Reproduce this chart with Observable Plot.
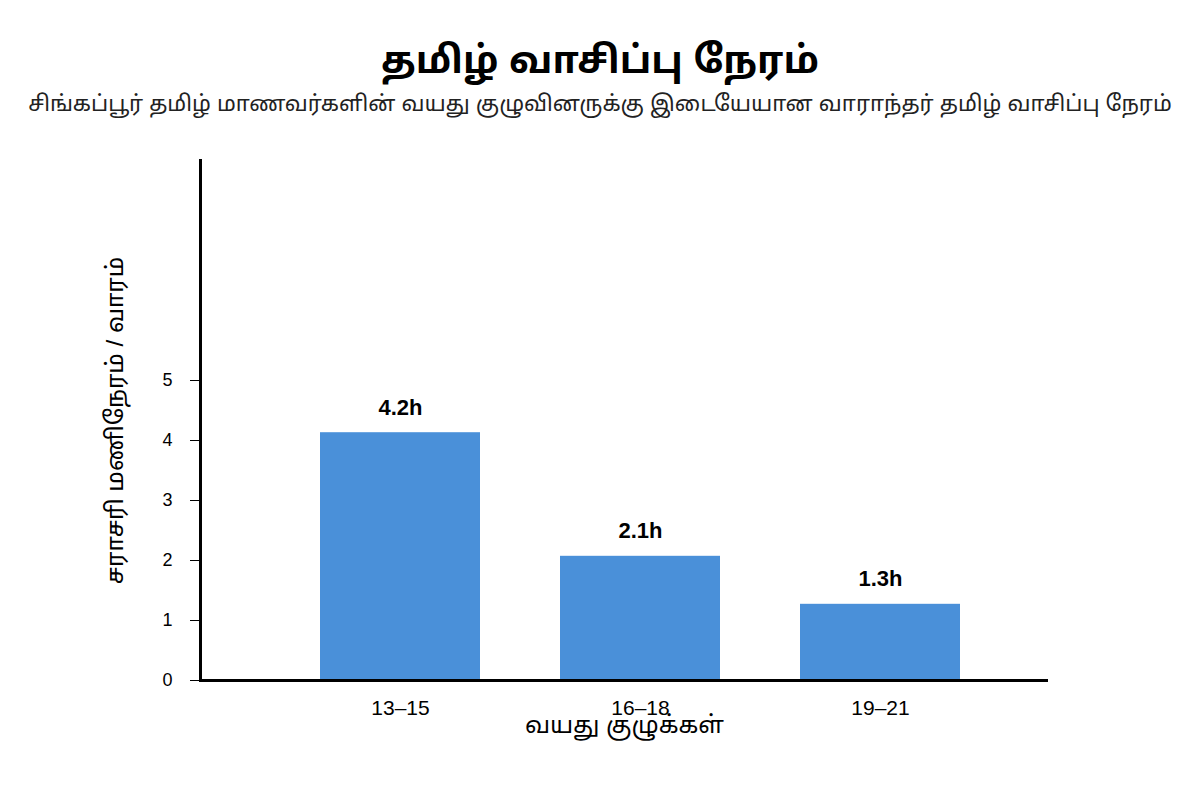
<!DOCTYPE html>
<html>
<head>
<meta charset="utf-8">
<script src="https://cdn.jsdelivr.net/npm/d3@7"></script>
<script src="https://cdn.jsdelivr.net/npm/@observablehq/plot@0.6"></script>
<style>
  body { margin: 0; background: #fff; font-family: "Liberation Sans", Arial, "Noto Sans Tamil", sans-serif; }
  #wrap { width: 1200px; }
  h1 { margin: 0; padding-top: 36px; height: 48px; line-height: 48px; text-align: center; font-size: 38px; font-weight: bold; color: #000; white-space: nowrap; }
  .sub { margin: 0; height: 40px; line-height: 40px; text-align: center; font-size: 22px; color: #222; white-space: nowrap; }
  #chart { margin-top: 6px; }
  svg g[aria-label="x-axis label"] text, svg g[aria-label="y-axis label"] text { font-size: 24px; fill: #000; }
</style>
</head>
<body>
<div id="wrap">
  <h1>தமிழ் வாசிப்பு நேரம்</h1>
  <div class="sub">சிங்கப்பூர் தமிழ் மாணவர்களின் வயது குழுவினருக்கு இடையேயான வாராந்தர் தமிழ் வாசிப்பு நேரம்</div>
  <div id="chart"></div>
</div>
<script>
const ageGroups = ["13–15", "16–18", "19–21"];
const hours = [4.13, 2.07, 1.27];
const valueLabels = ["4.2h", "2.1h", "1.3h"];
const yTicks = [0, 1, 2, 3, 4, 5];
const xTitle = "வயது குழுக்கள்";
const yTitle = "சராசரி மணிநேரம் / வாரம்";

const data = ageGroups.map((g, i) => ({group: g, hours: hours[i], label: valueLabels[i]}));

const chart = Plot.plot({
  width: 1200,
  height: 670,
  marginLeft: 200,
  marginRight: 152,
  marginTop: 30,
  marginBottom: 120,
  style: {fontFamily: "'Liberation Sans', Arial, 'Noto Sans Tamil', sans-serif", background: "#fff"},
  x: {domain: ageGroups, paddingInner: 1/3, paddingOuter: 0.4333, align: 0.577},
  y: {domain: [0, 8.667]},
  marks: [
    Plot.barY(data, {x: "group", y: "hours", fill: "#4a90d9"}),
    Plot.text(data, {x: "group", y: "hours", text: "label", dy: -25, fontSize: 22, fontWeight: "bold", fill: "#000"}),
    Plot.axisY({ticks: yTicks, tickSize: 10, tickPadding: 18, fontSize: 18, label: yTitle, labelAnchor: "center", labelArrow: "none", labelOffset: 95, color: "#000"}),
    Plot.axisX({tickSize: 0, tickPadding: 20, fontSize: 21, label: xTitle, labelAnchor: "center", labelArrow: "none", labelOffset: 52, color: "#000"}),
    Plot.frame({anchor: "left", strokeWidth: 3, stroke: "#000"}),
    Plot.ruleY([0], {strokeWidth: 3, stroke: "#000"})
  ]
});
document.getElementById("chart").appendChild(chart);
</script>
</body>
</html>
